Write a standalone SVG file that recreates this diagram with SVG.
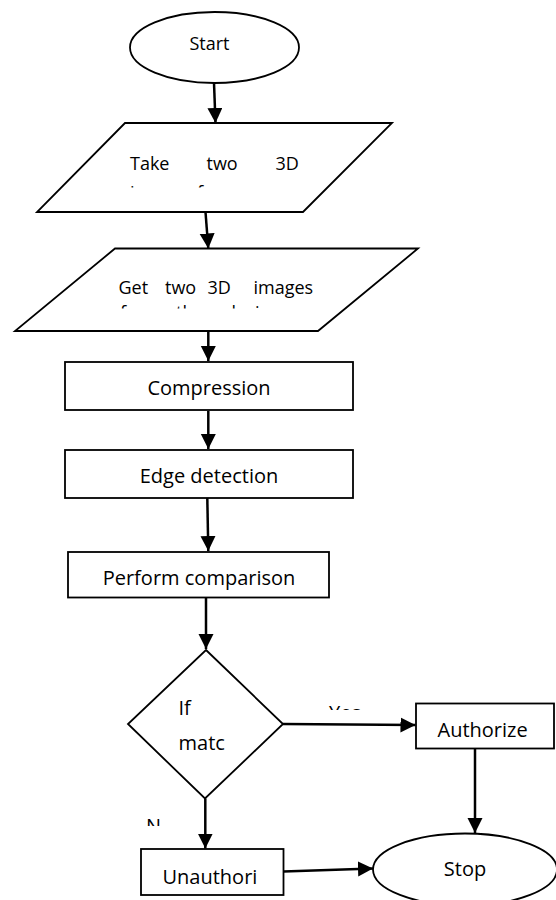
<svg xmlns="http://www.w3.org/2000/svg" width="556" height="900" viewBox="0 0 556 900">
<style>
.shape{fill:#fff;stroke:#000;stroke-width:1.8}
.conn{fill:none;stroke:#000;stroke-width:2.5}
text{font-family:"Open Sans","Noto Sans",sans-serif;fill:#000}
.t20{font-size:20px}
.t18{font-size:18px}
</style>
<defs>
<marker id="arr" markerUnits="userSpaceOnUse" markerWidth="16" markerHeight="16" refX="15" refY="7.5" orient="auto">
<path d="M0,0 L15,7.5 L0,15 Z" fill="#000"/>
</marker>
<clipPath id="c1"><rect x="0" y="0" width="556" height="187.5"/></clipPath>
<clipPath id="c2"><rect x="0" y="0" width="556" height="308.5"/></clipPath>
<clipPath id="cy"><rect x="0" y="0" width="556" height="710"/></clipPath>
<clipPath id="cn"><rect x="0" y="0" width="556" height="826"/></clipPath>
</defs>
<g id="start">
<ellipse class="shape" cx="214.5" cy="47.5" rx="84.5" ry="35.5"/>
<text class="t18" x="209.5" y="50" text-anchor="middle">Start</text>
</g>
<g id="take">
<polygon class="shape" points="125,123 392,123 303,212 37,212"/>
<g clip-path="url(#c1)">
<text class="t18" x="130" y="170">Take</text>
<text class="t18" x="206.5" y="170">two</text>
<text class="t18" x="275.5" y="170">3D</text>
<text class="t18" x="130" y="198.5">images</text>
<text class="t18" x="197" y="198.5">from</text>
</g>
</g>
<g id="get">
<polygon class="shape" points="115,248.5 418,248.5 318,331 15,331"/>
<g clip-path="url(#c2)">
<text class="t18" x="118.5" y="293.5">Get</text>
<text class="t18" x="165" y="293.5">two</text>
<text class="t18" x="207.5" y="293.5">3D</text>
<text class="t18" x="253.5" y="293.5">images</text>
<text class="t18" x="120" y="319">from</text>
<text class="t18" x="176" y="319">the</text>
<text class="t18" x="225" y="319">device</text>
</g>
</g>
<g id="compression">
<rect class="shape" x="65" y="362" width="288" height="48"/>
<text class="t20" x="209" y="395" text-anchor="middle">Compression</text>
</g>
<g id="edge">
<rect class="shape" x="65" y="450" width="288" height="48"/>
<text class="t20" x="209" y="483" text-anchor="middle">Edge detection</text>
</g>
<g id="perform">
<rect class="shape" x="68" y="552" width="261" height="45.5"/>
<text class="t20" x="199" y="585" text-anchor="middle">Perform comparison</text>
</g>
<g id="decision">
<polygon class="shape" points="206,650 283,724 205,798.5 128,724"/>
<text class="t20" x="178.5" y="715">If</text>
<text class="t20" x="178.5" y="750">matc</text>
</g>
<g id="authorize">
<rect class="shape" x="416" y="703.5" width="138" height="45"/>
<text class="t20" x="437.5" y="737">Authorize</text>
</g>
<g id="unauthorized">
<rect class="shape" x="141" y="849" width="142.5" height="46"/>
<text class="t20" x="162.5" y="883.5">Unauthori</text>
</g>
<g id="stop">
<ellipse class="shape" cx="465" cy="869.5" rx="92" ry="36"/>
<text class="t20" x="465" y="876" text-anchor="middle">Stop</text>
</g>
<g id="connectors">
<line class="conn" x1="214" y1="83" x2="215.5" y2="123" marker-end="url(#arr)"/>
<line class="conn" x1="205.5" y1="212" x2="208.3" y2="248.5" marker-end="url(#arr)"/>
<line class="conn" x1="208.3" y1="331" x2="208.3" y2="361" marker-end="url(#arr)"/>
<line class="conn" x1="208.3" y1="411" x2="208.3" y2="449" marker-end="url(#arr)"/>
<line class="conn" x1="207.3" y1="498" x2="208.3" y2="551" marker-end="url(#arr)"/>
<line class="conn" x1="206" y1="597.5" x2="206" y2="649" marker-end="url(#arr)"/>
<line class="conn" x1="283" y1="724" x2="415.5" y2="725" marker-end="url(#arr)"/>
<line class="conn" x1="475" y1="748.5" x2="475" y2="833" marker-end="url(#arr)"/>
<line class="conn" x1="205.3" y1="798.5" x2="205.3" y2="848.5" marker-end="url(#arr)"/>
<line class="conn" x1="283.5" y1="871.5" x2="373" y2="868.5" marker-end="url(#arr)"/>
<text class="t20" x="329" y="719.5" clip-path="url(#cy)">Yes</text>
<text class="t20" x="146" y="832.5" clip-path="url(#cn)">N</text>
</g>
</svg>
